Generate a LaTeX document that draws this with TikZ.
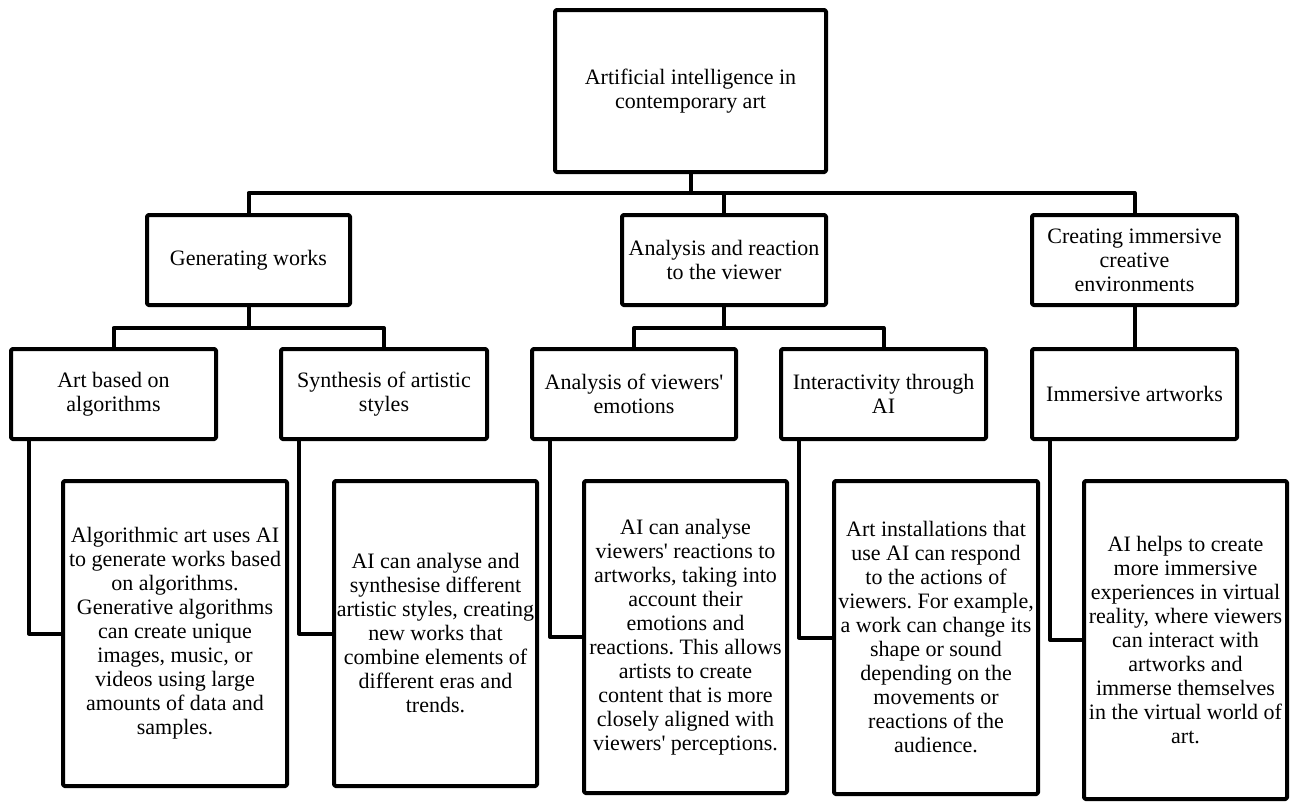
\documentclass[tikz,border=0pt]{standalone}
\usepackage{fontspec}
\setmainfont{Liberation Serif}
\usepackage{tikz}
\usetikzlibrary{positioning, calc}
\frenchspacing

\begin{document}
\begin{tikzpicture}[
    x=1pt, y=-1pt,
    box/.style={draw=black, line width=4pt, line join=round, rounded corners=1.5pt,
        align=center, inner sep=0pt, font=\fontsize{22}{24}\selectfont},
    link/.style={draw=black, line width=4pt, line join=round},
]
    \useasboundingbox (0, 0) rectangle (1292, 803);

    % root
    \node[box, minimum width=271, minimum height=162] (root) at (690.5, 91)
        {Artificial intelligence in\\contemporary art};

    % first level
    \node[box, minimum width=203, minimum height=90] (gen) at (248.5, 260) {Generating works};
    \node[box, minimum width=204, minimum height=90] (ana) at (724, 260) {Analysis and reaction\\to the viewer};
    \node[box, minimum width=205, minimum height=90] (cre) at (1134.5, 260) {Creating immersive\\creative\\environments};

    % second level
    \node[box, minimum width=205, minimum height=90] (art) at (113.5, 394) {Art based on\\algorithms};
    \node[box, minimum width=206, minimum height=90] (syn) at (384, 394) {Synthesis of artistic\\styles};
    \node[box, minimum width=204, minimum height=90] (emo) at (634, 394) {Analysis of viewers\textquotesingle\\emotions};
    \node[box, minimum width=205, minimum height=90] (int) at (883.5, 394) {Interactivity through\\AI};
    \node[box, minimum width=205, minimum height=90] (imm) at (1134.5, 394) {Immersive artworks};

    % descriptions
    \node[box, minimum width=224, minimum height=305] (alg) at (175, 633.5)
        {Algorithmic art uses AI\\to generate works based\\on algorithms.\\Generative algorithms\\can create unique\\images, music, or\\videos using large\\amounts of data and\\samples.};
    \node[box, minimum width=203, minimum height=305] (sty) at (435.5, 633.5)
        {AI can analyse and\\synthesise different\\artistic styles, creating\\new works that\\combine elements of\\different eras and\\trends.};
    \node[box, minimum width=203, minimum height=312] (rea) at (685.5, 637)
        {AI can analyse\\viewers\textquotesingle{} reactions to\\artworks, taking into\\account their\\emotions and\\reactions. This allows\\artists to create\\content that is more\\closely aligned with\\viewers\textquotesingle{} perceptions.};
    \node[box, minimum width=204, minimum height=313] (act) at (936, 637.5)
        {Art installations that\\use AI can respond\\to the actions of\\viewers. For example,\\a work can change its\\shape or sound\\depending on the\\movements or\\reactions of the\\audience.};
    \node[box, minimum width=203, minimum height=318] (vr) at (1185.5, 640)
        {AI helps to create\\more immersive\\experiences in virtual\\reality, where viewers\\can interact with\\artworks and\\immerse themselves\\in the virtual world of\\art.};

    % root to first level
    \coordinate (bus) at (0, 193);
    \draw[link] (root.south) -- (root.south |- bus);
    \draw[link] (gen.north) -- (gen.north |- bus) -- (cre.north |- bus) -- (cre.north);
    \draw[link] (ana.north) -- (ana.north |- bus);

    % first to second level
    \coordinate (subbus) at (0, 328);
    \draw[link] (gen.south) -- (gen.south |- subbus);
    \draw[link] (art.north) -- (art.north |- subbus) -- (syn.north |- subbus) -- (syn.north);
    \draw[link] (ana.south) -- (ana.south |- subbus);
    \draw[link] (emo.north) -- (emo.north |- subbus) -- (int.north |- subbus) -- (int.north);
    \draw[link] (cre.south) -- (imm.north);

    % second level to descriptions
    \foreach \from/\to in {art/alg, syn/sty, emo/rea, int/act, imm/vr}
        \draw[link] ([xshift=20pt]\from.south west) |- (\to.west);
\end{tikzpicture}
\end{document}
